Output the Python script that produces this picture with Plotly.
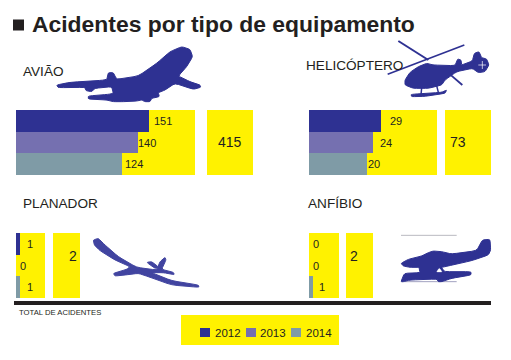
import plotly.graph_objects as go

W, H = 511, 360

title_text = "Acidentes por tipo de equipamento"
years = ["2012", "2013", "2014"]
categories = ["AVIÃO", "HELICÓPTERO", "PLANADOR", "ANFÍBIO"]
aviao = [151, 140, 124]
helicoptero = [29, 24, 20]
planador = [1, 0, 1]
anfibio = [0, 0, 1]
totals = [415, 73, 2, 2]
footnote = "TOTAL DE ACIDENTES"

BLUE, PURPLE, GREY = "#2E3192", "#7570B0", "#7F9BA6"
YELLOW = "#FFF200"
INK = "#231F20"
colors = [BLUE, PURPLE, GREY]
FONT = "Liberation Sans"


def px(x):
    return x / W


def py(y):
    return 1 - y / H


def poly(points, ox, oy, s=3, t=0.2):
    """Closed outline whose corners are slightly rounded."""
    pts = [(px(ox + a / s), py(oy + b / s)) for a, b in points]
    n = len(pts)
    d = ""
    for i, p in enumerate(pts):
        a, c = pts[i - 1], pts[(i + 1) % n]
        p0 = (p[0] + t * (a[0] - p[0]), p[1] + t * (a[1] - p[1]))
        p1 = (p[0] + t * (c[0] - p[0]), p[1] + t * (c[1] - p[1]))
        d += ("M" if i == 0 else " L") + f"{p0[0]:.5f},{p0[1]:.5f} Q{p[0]:.5f},{p[1]:.5f} {p1[0]:.5f},{p1[1]:.5f}"
    return d + " Z"


fig = go.Figure()
shapes, notes = [], []
rows = list(range(len(years)))

# panels: series, pixel box, total box, axis lower bound, px per unit, label shifts
panels = [
    (aviao, (16, 195, 110, 175), (207, 253), 18, 1.0, [3, -2, 1]),
    (helicoptero, (309, 437, 110, 175), (445, 491), -16, 1.6, [7, 5, -1]),
    (planador, (16, 45, 233, 298), (53, 80), 0, 4.0, [5, 2, 5]),
    (anfibio, (309, 339, 233, 298), (346, 373), 0, 4.0, [2, 2, 4]),
]
layout_axes = {}
for i, (vals, box, tbox, lo, scale, shifts) in enumerate(panels):
    n = "" if i == 0 else str(i + 1)
    x0, x1, y0, y1 = box
    layout_axes["xaxis" + n] = dict(domain=[px(x0), px(x1)], range=[lo, lo + (x1 - x0) / scale], visible=False, fixedrange=True, anchor="y" + n)
    layout_axes["yaxis" + n] = dict(domain=[py(y1), py(y0)], range=[2.5, -0.5], visible=False, fixedrange=True, anchor="x" + n)
    fig.add_trace(go.Bar(
        y=rows, x=[v - lo for v in vals], base=lo, orientation="h", width=1,
        marker=dict(color=colors, line_width=0), xaxis="x" + n, yaxis="y" + n, showlegend=False,
        name=categories[i], customdata=years,
    ))
    shapes.append(dict(type="rect", xref=f"x{n} domain", yref=f"y{n} domain", x0=0, x1=1, y0=0, y1=1,
                       fillcolor=YELLOW, line_width=0, layer="below"))
    for r, v, sh in zip(rows, vals, shifts):
        notes.append(dict(text=str(v), x=v, y=r, xref="x" + n, yref="y" + n, xanchor="left", xshift=sh,
                          showarrow=False, font=dict(size=11, color=INK, family=FONT)))
    # total box
    shapes.append(dict(type="rect", xref="paper", yref="paper", x0=px(tbox[0]), x1=px(tbox[1]), y0=py(y1), y1=py(y0),
                       fillcolor=YELLOW, line_width=0, layer="below"))
    notes.append(dict(text=str(totals[i]), x=px((tbox[0] + tbox[1]) / 2), y=py((y0 + y1) / 2), xref="paper", yref="paper",
                      showarrow=False, font=dict(size=14, color=INK, family=FONT)))


def text(t, x, y, size, color=INK, anchor="left", **font):
    notes.append(dict(text=t, x=px(x), y=py(y), xref="paper", yref="paper", xanchor=anchor, yanchor="middle",
                      showarrow=False, font=dict(size=size, color=color, family=FONT, **font)))


def fill(path, color=BLUE, w=1.0):
    shapes.append(dict(type="path", path=path, xref="paper", yref="paper", fillcolor=color,
                       line=dict(color=color, width=w)))


def seg(ax, ay, bx, by, ox, oy, w, color=BLUE):
    shapes.append(dict(type="line", xref="paper", yref="paper", x0=px(ox + ax / 3), y0=py(oy + ay / 3),
                       x1=px(ox + bx / 3), y1=py(oy + by / 3), line=dict(color=color, width=w)))


def rect(a, b, c, d, color):
    shapes.append(dict(type="rect", xref="paper", yref="paper", x0=px(a), x1=px(b), y0=py(c), y1=py(d),
                       fillcolor=color, line_width=0))


# title
rect(13, 24, 19.5, 30.5, INK)
text("<b>" + title_text + "</b>", 30, 24, 22.9)

# category labels
for c, (x, y) in zip(categories, [(21, 72), (304, 65), (21, 203), (306, 203)]):
    text(c, x, y, 13.6)

# rule, footnote
rect(14, 491, 301, 305, INK)
text(footnote, 17, 312, 7.7)

# legend
rect(181, 339, 315, 345, YELLOW)
for yr, c, sx, tx in zip(years, colors, [200, 246, 291], [213, 258, 304]):
    rect(sx, sx + 10, 328, 337, c)
    text(yr, tx, 332.5, 11.5)

# airplane
fill(poly([(20,135),(60,127),(170,120),(175,98),(190,98),(200,118),(265,108),(320,70),(360,35),(395,20),(420,28),(428,50),
           (410,80),(385,108),(420,125),(450,135),(452,142),(430,148),(375,130),(345,150),(325,158),(328,170),(305,175),
           (300,185),(285,185),(275,180),(260,183),(220,185),(190,185),(170,180),(115,177),(115,168),(175,163),(190,160),
           (185,140),(135,145),(125,155),(108,152),(105,142),(25,143)], 50, 40))

# helicopter
hx, hy = 385, 35
seg(40, 18, 130, 75, hx, hy, 2)
seg(8, 118, 238, 30, hx, hy, 1.6)
seg(195, 118, 232, 150, hx, hy, 1.8)
seg(110, 158, 108, 180, hx, hy, 1.5)
seg(155, 152, 160, 172, hx, hy, 1.5)
fill(poly([(60,135),(75,112),(100,95),(125,85),(145,90),(210,92),(218,72),(228,75),(230,90),(262,78),(268,55),(282,50),
           (290,68),(305,72),(312,90),(300,110),(280,113),(262,100),(215,110),(180,135),(170,150),(130,160),(85,160),(60,150)], hx, hy))
fill(poly([(78,178),(170,172),(185,165),(180,175),(120,184),(80,185)], hx, hy))
seg(280, 90, 303, 90, hx, hy, 0.7, "#FFFFFF")
seg(292, 78, 292, 102, hx, hy, 0.7, "#FFFFFF")

# glider
gx, gy = 85, 230
SOFT = "#4144A0"
fill(poly([(25,30),(40,25),(60,45),(100,80),(155,112),(215,120),(225,95),(240,82),(243,90),(230,118),(265,127),(268,134),
           (235,128),(200,128),(260,152),(340,165),(342,172),(260,165),(190,140),(160,130),(120,135),(90,138),(85,130),
           (125,118),(135,110),(90,90),(45,62),(28,45)], gx, gy), SOFT)
fill(poly([(185,97),(200,95),(222,112),(210,115)], gx, gy), SOFT)

# seaplane
sx, sy = 395, 230
seg(18, 16, 185, 16, sx, sy, 0.6, "#8A8A96")
seg(20, 155, 185, 155, sx, sy, 0.8, "#8A8AB0")
fill(poly([(18,100),(40,88),(80,78),(100,68),(115,63),(140,65),(170,72),(245,62),(262,30),(285,28),(287,60),(280,75),
           (230,92),(150,110),(140,112),(148,125),(228,125),(228,135),(170,145),(140,155),(130,155),(125,147),(45,150),
           (25,155),(18,155),(28,130),(75,128),(72,112),(45,112),(25,108)], sx, sy))
fill(poly([(124,126),(133,114),(142,126)], sx, sy), "#FFFFFF", 0.3)

fig.update_layout(
    width=W, height=H, margin=dict(l=0, r=0, t=0, b=0), paper_bgcolor="#FFFFFF", plot_bgcolor="rgba(0,0,0,0)",
    barmode="overlay", bargap=0, shapes=shapes, annotations=notes, showlegend=False, font=dict(family=FONT),
    **layout_axes,
)
fig.write_html("out.html", config=dict(displayModeBar=False),
               post_script="document.body.style.margin='0';document.documentElement.style.overflow='hidden';")
